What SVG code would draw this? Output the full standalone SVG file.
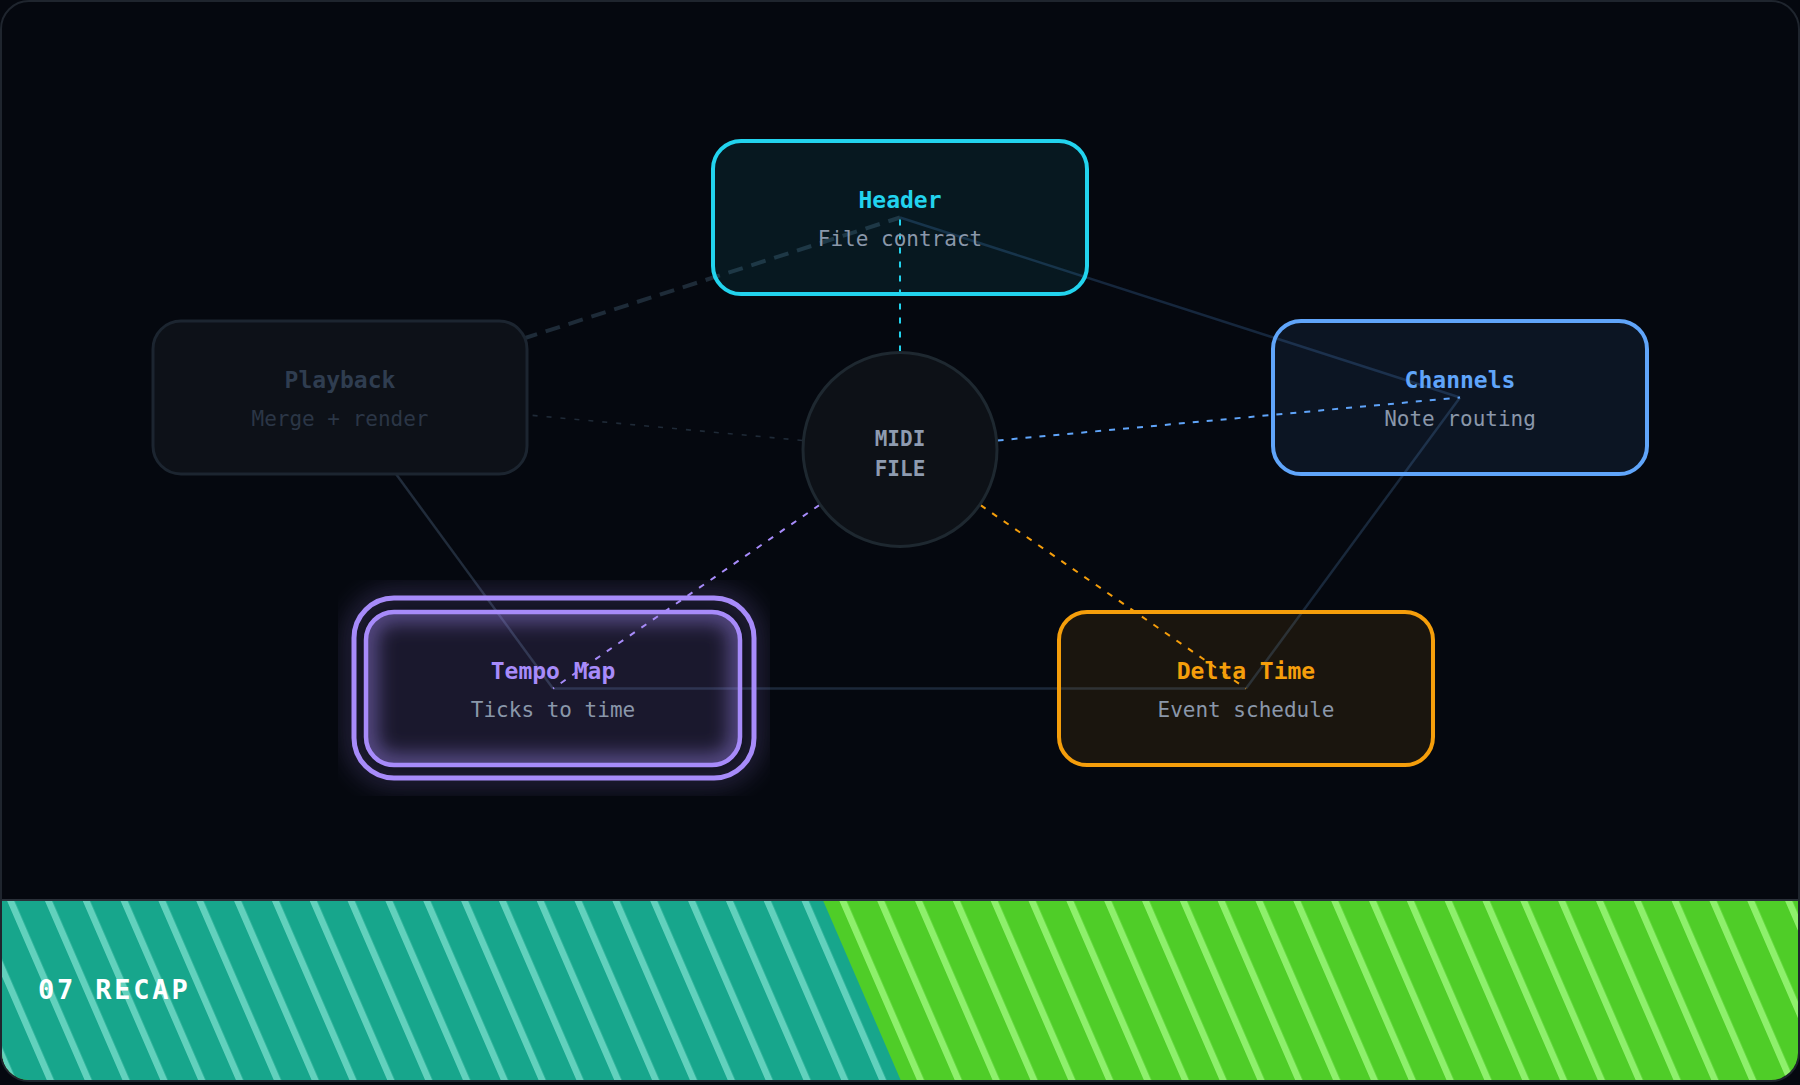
<svg xmlns="http://www.w3.org/2000/svg" width="1800" height="1085" viewBox="0 0 1800 1085">
<defs>
<style>
.t{font-family:"DejaVu Sans Mono","Liberation Mono",monospace;text-anchor:middle;}
.title{font-size:23px;font-weight:bold;}
.sub{font-size:21px;fill:#8a97aa;}
.ring{fill:none;stroke-width:2.5;}
.spoke{fill:none;stroke-width:2;stroke-dasharray:6 8;}
</style>
<pattern id="stT" patternUnits="userSpaceOnUse" width="37.83" height="200" patternTransform="translate(6.7,900) skewX(23.4)">
<rect x="0" y="0" width="37.83" height="200" fill="#17a68c"/>
<rect x="0" y="0" width="7.3" height="200" fill="#62d1bd"/>
</pattern>
<pattern id="stG" patternUnits="userSpaceOnUse" width="37.83" height="200" patternTransform="translate(6.7,900) skewX(23.4)">
<rect x="0" y="0" width="37.83" height="200" fill="#4fcd28"/>
<rect x="0" y="0" width="7.3" height="200" fill="#8ef06c"/>
</pattern>
<clipPath id="frameClip"><rect x="2" y="2" width="1796" height="1078" rx="27"/></clipPath>
<clipPath id="innerClip"><rect x="366" y="612" width="374" height="153" rx="28"/></clipPath>
<filter id="glow" x="-4%" y="-10%" width="108%" height="120%">
<feGaussianBlur in="SourceGraphic" stdDeviation="13" result="b"/>
<feComponentTransfer in="b" result="b2"><feFuncA type="linear" slope="0.8"/></feComponentTransfer>
<feMerge><feMergeNode in="b2"/><feMergeNode in="SourceGraphic"/></feMerge>
</filter>
<filter id="soft" x="-20%" y="-20%" width="140%" height="140%"><feGaussianBlur stdDeviation="9"/></filter>
</defs>

<rect x="0" y="0" width="1800" height="1085" fill="#05080f"/>
<rect x="1" y="1" width="1798" height="1080" rx="28" fill="#05080f" stroke="#1f252e" stroke-width="2"/>

<g id="band" clip-path="url(#frameClip)">
<rect x="0" y="901" width="1800" height="185" fill="url(#stG)"/>
<polygon points="0,901 823.3,901 901.5,1082 0,1082" fill="url(#stT)"/>
<line x1="0" y1="900" x2="1800" y2="900" stroke="#2a3039" stroke-width="2"/>
</g>
<text x="38" y="999" font-family="DejaVu Sans Mono, monospace" font-size="27" font-weight="bold" fill="#ffffff" letter-spacing="2.8">07 RECAP</text>

<g id="connectors">
<line class="ring" x1="900" y1="217.5" x2="1460" y2="397.5" stroke="#16273d" stroke-width="3"/>
<line class="ring" x1="1460" y1="397.5" x2="1246" y2="688.5" stroke="#19283b"/>
<line class="ring" x1="1246" y1="688.5" x2="553" y2="688.5" stroke="#1c283a"/>
<line class="ring" x1="553" y1="688.5" x2="340" y2="397.5" stroke="#212c3b" stroke-width="2"/>
<line x1="340" y1="397.5" x2="900" y2="217.5" stroke="#1e2b38" stroke-width="4" stroke-dasharray="15 9"/>
<line x1="900" y1="449.5" x2="340" y2="397.5" stroke="#1f2a37" stroke-width="1.6" stroke-dasharray="5 9"/>
<line class="spoke" x1="900" y1="449.5" x2="900" y2="217.5" stroke="#22d3ee"/>
<line class="spoke" x1="900" y1="449.5" x2="1460" y2="397.5" stroke="#60a5fa"/>
<line class="spoke" x1="900" y1="449.5" x2="1246" y2="688.5" stroke="#f59e0b"/>
<line class="spoke" x1="900" y1="449.5" x2="553" y2="688.5" stroke="#a78bfa"/>
</g>

<g id="center">
<circle cx="900" cy="449.5" r="97" fill="#0d1117" stroke="#1e2830" stroke-width="3"/>
<text class="t" x="900" y="446" font-size="21" font-weight="bold" fill="#8e9bb0">MIDI</text>
<text class="t" x="900" y="476" font-size="21" font-weight="bold" fill="#8e9bb0">FILE</text>
</g>

<g id="header">
<rect x="713" y="141" width="374" height="153" rx="28" fill="#22d3ee" fill-opacity="0.08" stroke="#22d3ee" stroke-width="4"/>
<text class="t title" x="900" y="208" fill="#22d3ee">Header</text>
<text class="t sub" x="900" y="246">File contract</text>
</g>

<g id="channels">
<rect x="1273" y="321" width="374" height="153" rx="28" fill="#60a5fa" fill-opacity="0.085" stroke="#60a5fa" stroke-width="4"/>
<text class="t title" x="1460" y="388" fill="#60a5fa">Channels</text>
<text class="t sub" x="1460" y="426">Note routing</text>
</g>

<g id="playback">
<rect x="153" y="321" width="374" height="153" rx="28" fill="#0d1118" stroke="#1c2530" stroke-width="3"/>
<text class="t title" x="340" y="388" fill="#2f3d50">Playback</text>
<text class="t sub" x="340" y="426" style="fill:#2b3646">Merge + render</text>
</g>

<g id="delta">
<rect x="1059" y="612" width="374" height="153" rx="28" fill="#f59e0b" fill-opacity="0.09" stroke="#f59e0b" stroke-width="4"/>
<text class="t title" x="1246" y="679" fill="#f59e0b">Delta Time</text>
<text class="t sub" x="1246" y="717">Event schedule</text>
</g>

<g id="tempo">
<rect x="354" y="598" width="400" height="180" rx="40" fill="none" stroke="#a78bfa" stroke-width="5" filter="url(#glow)"/>
<rect x="366" y="612" width="374" height="153" rx="28" fill="#a78bfa" fill-opacity="0.13"/>
<g clip-path="url(#innerClip)">
<rect x="366" y="612" width="374" height="153" rx="28" fill="none" stroke="#a78bfa" stroke-opacity="0.35" stroke-width="26" filter="url(#soft)"/>
</g>
<rect x="366" y="612" width="374" height="153" rx="28" fill="none" stroke="#a78bfa" stroke-width="4.5"/>
<text class="t title" x="553" y="679" fill="#a78bfa">Tempo Map</text>
<text class="t sub" x="553" y="717">Ticks to time</text>
</g>
</svg>
